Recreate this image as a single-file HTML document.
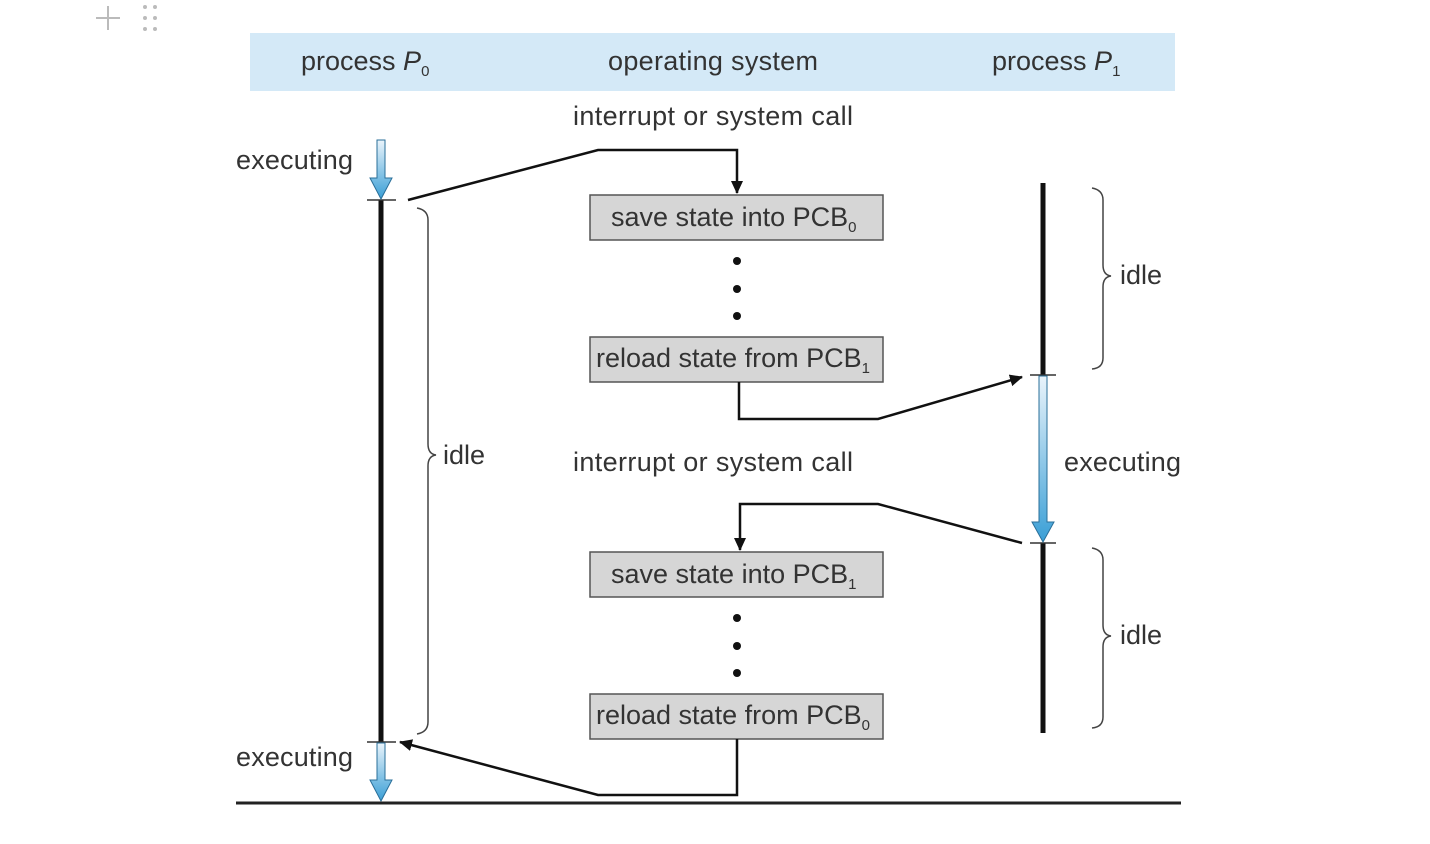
<!DOCTYPE html>
<html><head><meta charset="utf-8"><style>
html,body{margin:0;padding:0;background:#fff;}
svg{display:block;}
text{font-family:"Liberation Sans",sans-serif;fill:#333;}
</style></head><body>
<svg width="1430" height="844" viewBox="0 0 1430 844" xmlns="http://www.w3.org/2000/svg">
<defs>
<linearGradient id="bg" x1="0" y1="0" x2="0" y2="1"><stop offset="0" stop-color="#eaf4fb"/><stop offset="1" stop-color="#3a9fd6"/></linearGradient>
<marker id="ah" markerWidth="13" markerHeight="12" refX="12" refY="6" orient="auto" markerUnits="userSpaceOnUse"><path d="M0,0 L13,6 L0,12 Z" fill="#111"/></marker>
</defs>
<g stroke="#bbb" stroke-width="2"><line x1="96" y1="18" x2="120" y2="18"/><line x1="108" y1="6" x2="108" y2="30"/></g>
<g fill="#bbb"><circle cx="145" cy="7" r="2"/><circle cx="155" cy="7" r="2"/><circle cx="145" cy="18" r="2"/><circle cx="155" cy="18" r="2"/><circle cx="145" cy="29" r="2"/><circle cx="155" cy="29" r="2"/></g>
<rect x="250" y="33" width="925" height="58" fill="#d4e9f7"/>
<text x="301" y="70" font-size="27">process <tspan font-style="italic">P</tspan><tspan font-size="15" dy="6">0</tspan></text>
<text x="608" y="70" font-size="27" textLength="210">operating system</text>
<text x="992" y="70" font-size="27">process <tspan font-style="italic">P</tspan><tspan font-size="15" dy="6">1</tspan></text>
<text x="573" y="125" font-size="27" textLength="280">interrupt or system call</text>
<text x="573" y="471" font-size="27" textLength="280">interrupt or system call</text>
<text x="236" y="169" font-size="27" textLength="117">executing</text>
<text x="236" y="766" font-size="27" textLength="117">executing</text>
<text x="1064" y="471" font-size="27" textLength="117">executing</text>
<text x="443" y="464" font-size="27">idle</text>
<text x="1120" y="284" font-size="27">idle</text>
<text x="1120" y="644" font-size="27">idle</text>
<line x1="381" y1="200" x2="381" y2="742" stroke="#111" stroke-width="5"/>
<line x1="367" y1="200" x2="396" y2="200" stroke="#333" stroke-width="1.5"/>
<line x1="367" y1="742" x2="396" y2="742" stroke="#333" stroke-width="1.5"/>
<path d="M377,140 H385 V178 H392 L381,199 L370,178 H377 Z" fill="url(#bg)" stroke="#2a6f99" stroke-width="1"/>
<path d="M377,743 H385 V780 H392 L381,801 L370,780 H377 Z" fill="url(#bg)" stroke="#2a6f99" stroke-width="1"/>
<path d="M417,208 Q428,210 428,220 V444 Q428,454 436,455 Q428,456 428,466 V722 Q428,732 417,734" fill="none" stroke="#444" stroke-width="1.5"/>
<line x1="1043" y1="183" x2="1043" y2="375" stroke="#111" stroke-width="5"/>
<line x1="1043" y1="543" x2="1043" y2="733" stroke="#111" stroke-width="5"/>
<line x1="1030" y1="375" x2="1056" y2="375" stroke="#333" stroke-width="1.5"/>
<line x1="1030" y1="543" x2="1056" y2="543" stroke="#333" stroke-width="1.5"/>
<path d="M1039,376 H1047 V522 H1054 L1043,542 L1032,522 H1039 Z" fill="url(#bg)" stroke="#2a6f99" stroke-width="1"/>
<path d="M1092,188 Q1103,190 1103,200 V265 Q1103,275 1111,276 Q1103,277 1103,287 V358 Q1103,368 1092,369" fill="none" stroke="#444" stroke-width="1.5"/>
<path d="M1092,548 Q1103,550 1103,560 V625 Q1103,635 1111,636 Q1103,637 1103,647 V717 Q1103,727 1092,728" fill="none" stroke="#444" stroke-width="1.5"/>
<g fill="#d6d6d6" stroke="#555" stroke-width="1.5">
<rect x="590" y="195" width="293" height="45"/>
<rect x="590" y="337" width="293" height="45"/>
<rect x="590" y="552" width="293" height="45"/>
<rect x="590" y="694" width="293" height="45"/>
</g>
<g font-size="27">
<text x="611" y="226">save state into PCB<tspan font-size="15" dy="6">0</tspan></text>
<text x="596" y="367">reload state from PCB<tspan font-size="15" dy="6">1</tspan></text>
<text x="611" y="583">save state into PCB<tspan font-size="15" dy="6">1</tspan></text>
<text x="596" y="724">reload state from PCB<tspan font-size="15" dy="6">0</tspan></text>
</g>
<g fill="#111"><circle cx="737" cy="261" r="4"/><circle cx="737" cy="289" r="4"/><circle cx="737" cy="316" r="4"/>
<circle cx="737" cy="618" r="4"/><circle cx="737" cy="646" r="4"/><circle cx="737" cy="673" r="4"/></g>
<g fill="none" stroke="#111" stroke-width="2.5">
<polyline points="408,200 598,150 737,150 737,193" marker-end="url(#ah)"/>
<polyline points="739,382 739,419 878,419 1022,377" marker-end="url(#ah)"/>
<polyline points="1022,543 878,504 740,504 740,550" marker-end="url(#ah)"/>
<polyline points="737,739 737,795 598,795 400,742" marker-end="url(#ah)"/>
</g>
<line x1="236" y1="803" x2="1181" y2="803" stroke="#222" stroke-width="3"/>
</svg>
</body></html>
